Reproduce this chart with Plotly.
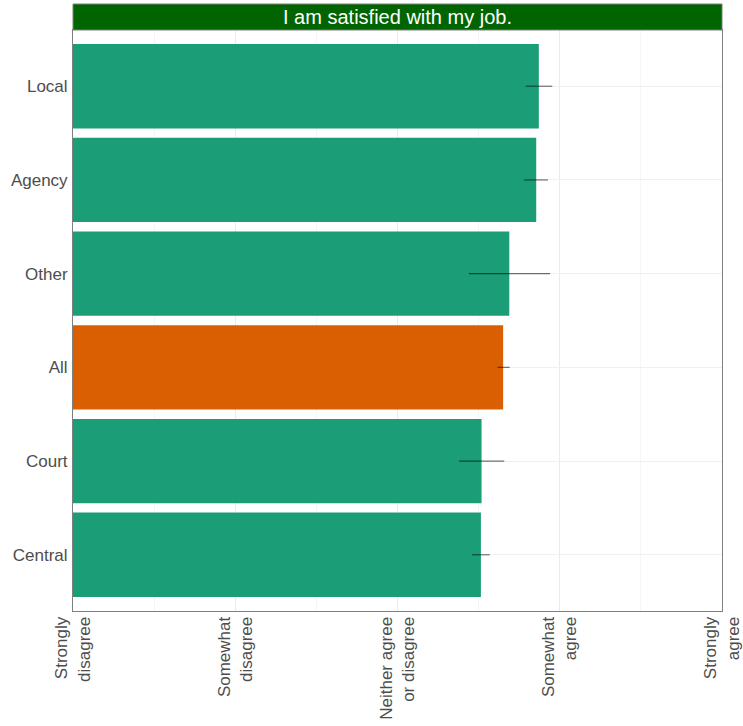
import plotly.graph_objects as go

categories = ["Central", "Court", "All", "Other", "Agency", "Local"]
means = [3.514, 3.518, 3.651, 3.689, 3.855, 3.871]
err_low = [3.46, 3.38, 3.617, 3.44, 3.78, 3.79]
err_high = [3.569, 3.658, 3.691, 3.94, 3.927, 3.954]
colors = ["#1b9e77", "#1b9e77", "#d95f02", "#1b9e77", "#1b9e77", "#1b9e77"]
tick_vals = [1, 2, 3, 4, 5]
tick_text = ["Strongly<br>disagree", "Somewhat<br>disagree", "Neither agree<br>or disagree",
             "Somewhat<br>agree", "Strongly<br>agree"]
title_text = "I am satisfied with my job."

base = 1
fig = go.Figure()
fig.add_trace(go.Bar(
    y=categories,
    x=[m - base for m in means],
    base=base,
    orientation="h",
    width=0.9,
    marker=dict(color=colors, line=dict(width=0)),
    error_x=dict(
        type="data", symmetric=False,
        array=[h - m for h, m in zip(err_high, means)],
        arrayminus=[m - l for l, m in zip(err_low, means)],
        width=0, thickness=1.2, color="rgba(0,0,0,0.55)",
    ),
    hoverinfo="skip",
))

fig.update_layout(
    width=743, height=726,
    margin=dict(l=73, r=21, t=30, b=115, autoexpand=False),
    paper_bgcolor="white", plot_bgcolor="white",
    showlegend=False,
    font=dict(family="Liberation Sans, Arial, sans-serif", color="#4d4d4d", size=17),
    xaxis=dict(
        range=[1, 5], tickvals=tick_vals, ticktext=tick_text, tickangle=-90,
        showgrid=True, gridcolor="#ebebeb", gridwidth=1,
        minor=dict(dtick=0.5, tick0=1, showgrid=True, gridcolor="#f5f5f5", gridwidth=0.5),
        showline=True, linecolor="#7f7f7f", linewidth=1, mirror=True,
        ticks="", zeroline=False, tickfont=dict(size=17, color="#4d4d4d"),
        ticklabelstandoff=-2, automargin=False,
    ),
    yaxis=dict(
        range=[-0.6, 5.6], showgrid=True, gridcolor="#f0f0f0", gridwidth=1,
        showline=True, linecolor="#7f7f7f", linewidth=1, mirror=True,
        ticks="", ticklabelstandoff=1, tickfont=dict(size=17, color="#4d4d4d"),
        automargin=False,
    ),
    shapes=[dict(type="rect", xref="paper", yref="paper", x0=0, x1=1, y0=1, y1=1 + 26 / 581,
                 fillcolor="#006400", line=dict(color="#7f7f7f", width=1), layer="above")],
    annotations=[dict(text=title_text, xref="paper", yref="paper", x=0.5, y=1 + 13 / 581,
                      showarrow=False, xanchor="center", yanchor="middle",
                      font=dict(size=20, color="white"))],
)

fig.write_html("out.html", config={"displayModeBar": False},
               post_script="document.body.style.margin='0px';")
